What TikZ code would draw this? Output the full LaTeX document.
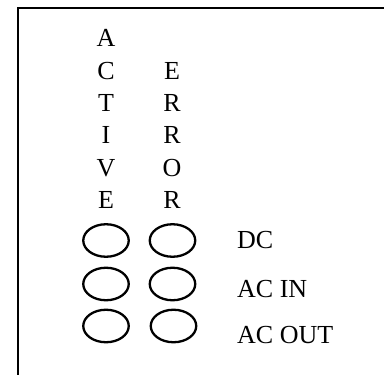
\documentclass[tikz,border=0pt]{standalone}
\usepackage{fontspec}
\setmainfont{Liberation Serif}
\usetikzlibrary{shapes.geometric}
\begin{document}
\begin{tikzpicture}[x=1pt,y=-1pt,
  lbl/.style={anchor=base,inner sep=0pt,font=\fontsize{26}{26}\selectfont},
  side/.style={anchor=base west,inner sep=0pt,font=\fontsize{26}{26}\selectfont},
  led/.style={draw,line width=2.3pt,ellipse,minimum width=45.5pt,minimum height=32.5pt,inner sep=0pt}]
\useasboundingbox (0,0) rectangle (384,375);
\coordinate (bl) at (18,376);
\coordinate (tl) at (18,8);
\coordinate (tr) at (385,8);
\draw[line width=2.2pt] (bl) -- (tl) -- (tr);
% ACTIVE column
\node[lbl] (a1) at (106,46.5) {A};
\node[lbl] (a2) at (106,79) {C};
\node[lbl] (a3) at (106,111) {T};
\node[lbl] (a4) at (106,143) {I};
\node[lbl] (a5) at (106,176) {V};
\node[lbl] (a6) at (106,208) {E};
% ERROR column
\node[lbl] (e1) at (172,79) {E};
\node[lbl] (e2) at (172,111) {R};
\node[lbl] (e3) at (172,143) {R};
\node[lbl] (e4) at (172,176) {O};
\node[lbl] (e5) at (172,208) {R};
% LEDs
\node[led] (l11) at (106,240.5) {};
\node[led] (l12) at (172.5,240.5) {};
\node[led] (l21) at (106,284) {};
\node[led] (l22) at (172.5,284) {};
\node[led] (l31) at (106,326) {};
\node[led] (l32) at (173.5,326) {};
% labels
\node[side] (dc) at (237,248) {DC};
\node[side] (acin) at (237,297) {AC IN};
\node[side] (acout) at (237,343) {AC OUT};
\end{tikzpicture}
\end{document}
